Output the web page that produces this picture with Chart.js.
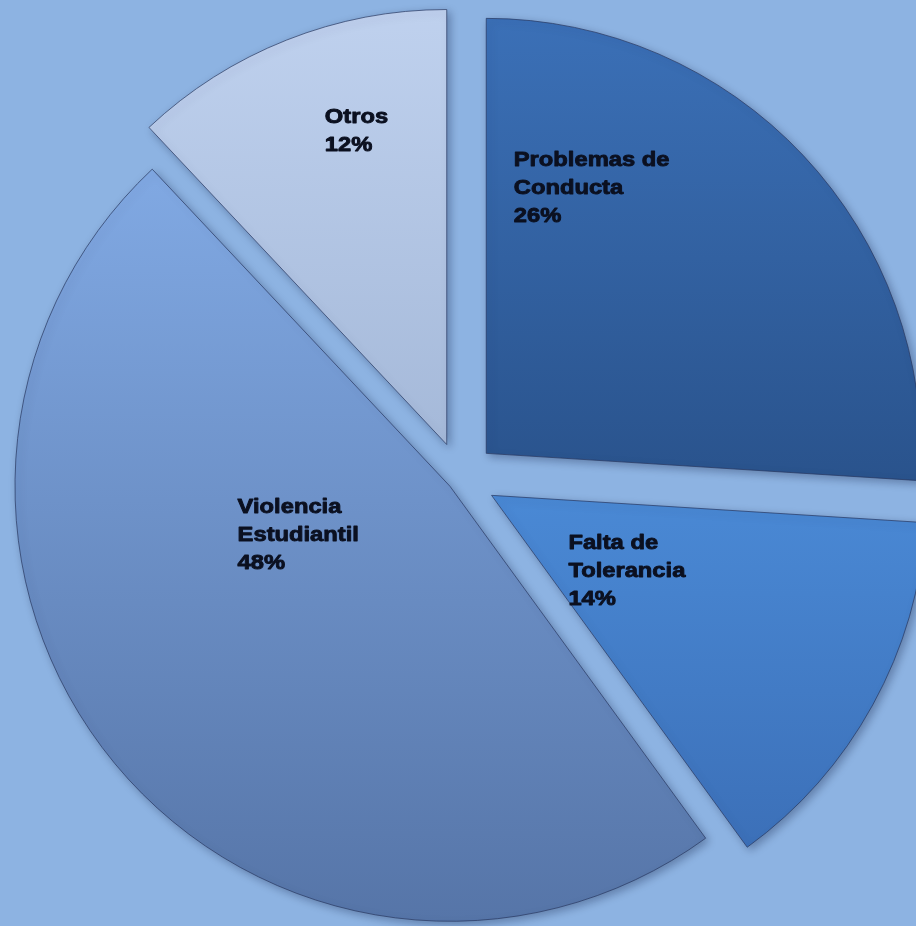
<!DOCTYPE html>
<html>
<head>
<meta charset="utf-8">
<script src="https://cdn.jsdelivr.net/npm/chart.js@4.4.0/dist/chart.umd.min.js"></script>
<style>
  body { margin: 0; background: #8db3e2; }
  canvas { display: block; }
</style>
</head>
<body>
<canvas id="myChart" width="916" height="926"></canvas>
<script>
// data
const categories = [["Problemas de", "Conducta"], ["Falta de", "Tolerancia"], ["Violencia", "Estudiantil"], ["Otros"]];
const percentages = [26, 14, 48, 12];

// looks
const topColors = ["#3b70b7", "#4a89d5", "#80a8e2", "#bfd1ee"];
const bottomColors = ["#29528b", "#3a6db5", "#5675a8", "#a5b9d9"];
const gradStart = [0, 0.5, 0.15, 0];
const gradEnd = [0.55, 0.95, 1, 0.5];
const explode = [36, 36, 13, 36];
// label spot inside each slice: share of the sweep, share of the radius
const labelAngle = [0.23, 0.5, 0.63, 0.63];
const labelRadius = [0.66, 0.355, 0.365, 0.754];

const R = 435;

function sliceFill(context) {
    const chart = context.chart;
    const area = chart.chartArea;
    const i = context.dataIndex;
    if (!area || i === undefined) return topColors[0];
    const cy = (area.top + area.bottom) / 2;
    const y0 = cy - R, y1 = cy + R;
    const g = chart.ctx.createLinearGradient(0, y0 + (y1 - y0) * gradStart[i], 0, y0 + (y1 - y0) * gradEnd[i]);
    g.addColorStop(0, topColors[i]);
    g.addColorStop(1, bottomColors[i]);
    return g;
}

const explodePlugin = {
    id: 'explode',
    beforeDatasetDraw(chart, args) {
        const ctx = chart.ctx;
        args.meta.data.forEach((arc, i) => {
            const mid = (arc.startAngle + arc.endAngle) / 2;
            ctx.save();
            ctx.translate(Math.cos(mid) * explode[i], Math.sin(mid) * explode[i]);
            ctx.shadowColor = 'rgba(20, 35, 70, 0.35)';
            ctx.shadowBlur = 8;
            ctx.shadowOffsetX = 3;
            ctx.shadowOffsetY = 3;
            arc.draw(ctx);
            ctx.restore();
        });
        return false;
    },
    afterDatasetsDraw(chart) {
        const ctx = chart.ctx;
        const meta = chart.getDatasetMeta(0);
        const sx = 1.13, lh = 28, cap = 15;
        ctx.save();
        ctx.font = 'bold 21px "Liberation Sans", Arial, sans-serif';
        ctx.fillStyle = '#0b1020';
        ctx.strokeStyle = '#0b1020';
        ctx.lineWidth = 0.9;
        ctx.lineJoin = 'round';
        ctx.textAlign = 'left';
        ctx.textBaseline = 'alphabetic';
        meta.data.forEach((arc, i) => {
            const mid = (arc.startAngle + arc.endAngle) / 2;
            const cx = arc.x + Math.cos(mid) * explode[i];
            const cy = arc.y + Math.sin(mid) * explode[i];
            const a = arc.startAngle + (arc.endAngle - arc.startAngle) * labelAngle[i];
            const px = cx + Math.cos(a) * arc.outerRadius * labelRadius[i];
            const py = cy + Math.sin(a) * arc.outerRadius * labelRadius[i];
            const lines = [...categories[i], percentages[i] + '%'];
            const w = Math.max(...lines.map(l => ctx.measureText(l).width)) * sx;
            const h = (lines.length - 1) * lh + cap;
            const left = px - w / 2, top = py - h / 2;
            lines.forEach((l, k) => {
                ctx.save();
                ctx.translate(left, top + cap + k * lh);
                ctx.scale(sx, 1);
                ctx.fillText(l, 0, 0);
                ctx.strokeText(l, 0, 0);
                ctx.restore();
            });
        });
        ctx.restore();
    }
};

new Chart(document.getElementById('myChart'), {
    type: 'pie',
    data: {
        labels: categories,
        datasets: [{
            data: percentages,
            backgroundColor: sliceFill,
            borderColor: 'rgba(40, 55, 95, 0.7)',
            borderWidth: 1
        }]
    },
    options: {
        responsive: false,
        animation: false,
        radius: R,
        layout: { padding: { left: 4, top: 30, right: 0, bottom: 0 } },
        plugins: {
            legend: { display: false },
            tooltip: { enabled: false }
        }
    },
    plugins: [explodePlugin]
});
</script>
</body>
</html>
